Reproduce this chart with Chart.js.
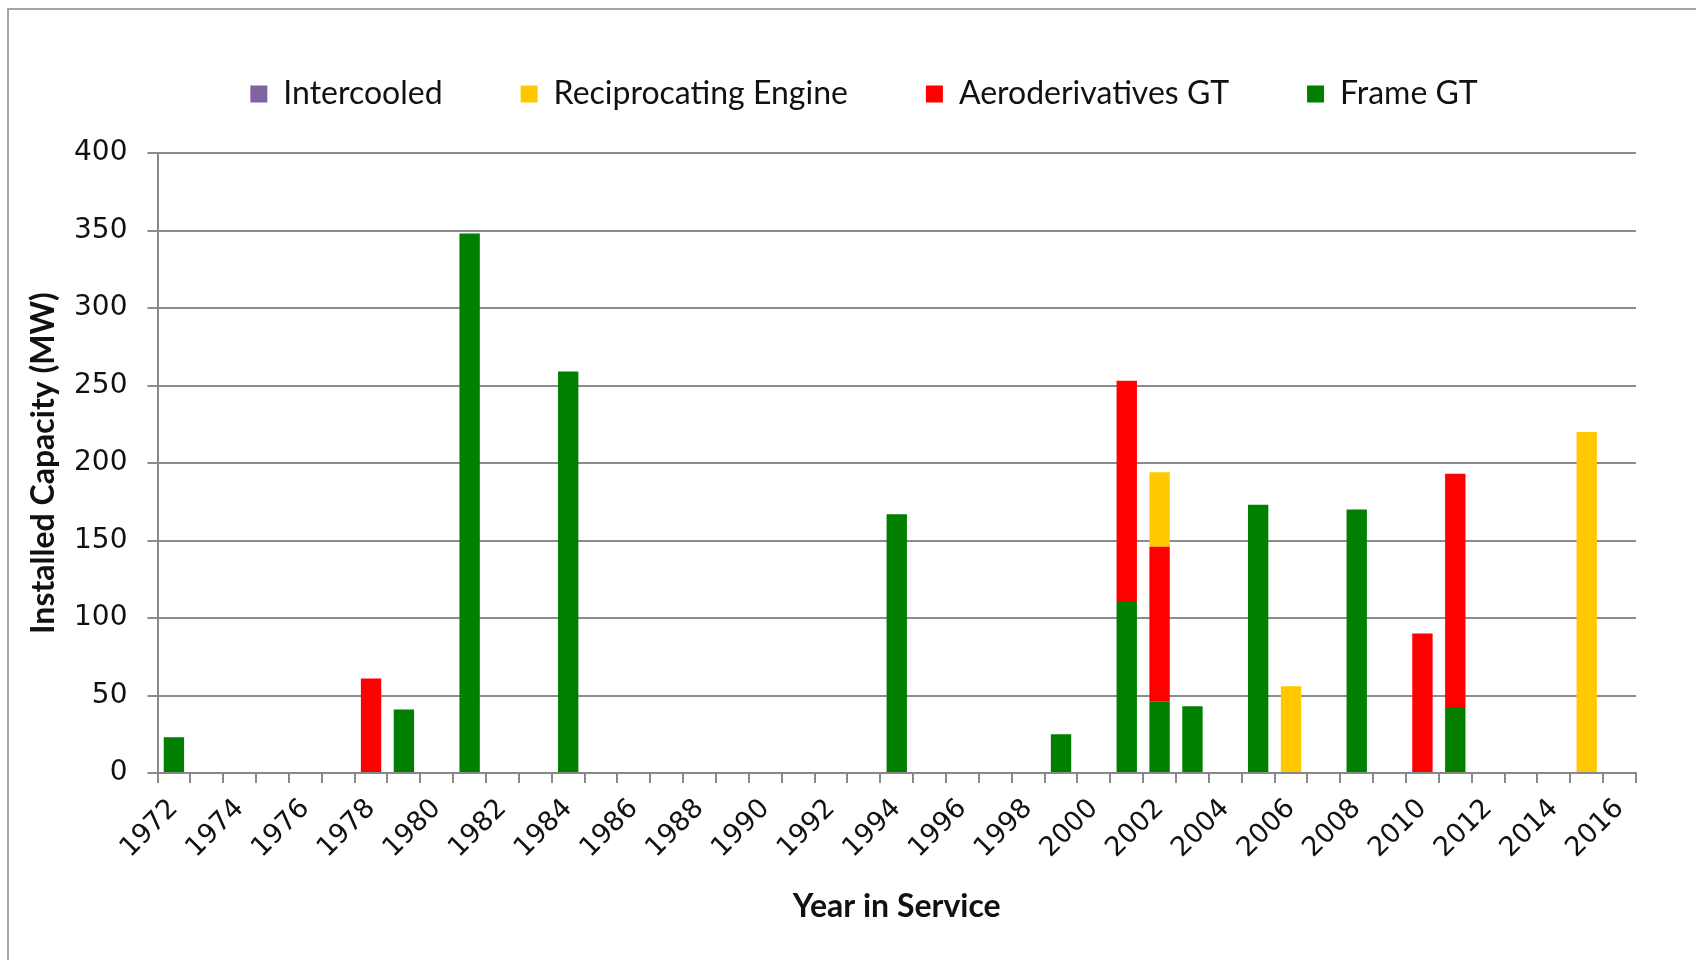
<!DOCTYPE html>
<html><head><meta charset="utf-8">
<script src="https://cdn.jsdelivr.net/npm/chart.js@4.4.1/dist/chart.umd.min.js"></script>
<style>html,body{margin:0;padding:0;background:#fff;overflow:hidden}#wrap{width:1696px;height:960px;position:relative}canvas{display:block}</style>
</head><body><div id="wrap"><canvas id="c" width="1696" height="960"></canvas></div>
<script>
const years = ['1972','1973','1974','1975','1976','1977','1978','1979','1980','1981','1982','1983','1984','1985','1986','1987','1988','1989','1990','1991','1992','1993','1994','1995','1996','1997','1998','1999','2000','2001','2002','2003','2004','2005','2006','2007','2008','2009','2010','2011','2012','2013','2014','2015','2016'];
const frameGT =       [23,0,0,0,0,0,0,41,0,348,0,0,259,0,0,0,0,0,0,0,0,0,167,0,0,0,0,25,0,111,46,43,0,173,0,0,170,0,0,42,0,0,0,0,0];
const aeroGT =        [0,0,0,0,0,0,61,0,0,0,0,0,0,0,0,0,0,0,0,0,0,0,0,0,0,0,0,0,0,142,100,0,0,0,0,0,0,0,90,151,0,0,0,0,0];
const recipEngine =   [0,0,0,0,0,0,0,0,0,0,0,0,0,0,0,0,0,0,0,0,0,0,0,0,0,0,0,0,0,0,48,0,0,0,56,0,0,0,0,0,0,0,0,220,0];
const intercooled =   [0,0,0,0,0,0,0,0,0,0,0,0,0,0,0,0,0,0,0,0,0,0,0,0,0,0,0,0,0,0,0,0,0,0,0,0,0,0,0,0,0,0,0,0,0];
const yTicks = [0,50,100,150,200,250,300,350,400];

const PAD = {left:24, right:60, top:0, bottom:34};
const PLOT = {left:157.5, top:153, bottom:773};
const LEGEND_SHIFT = 34;

const frame = {
  id:'frame',
  beforeDraw(chart){
    const c = chart.ctx;
    c.save();
    c.strokeStyle = '#a6a6a6';
    c.lineWidth = 2;
    c.beginPath();
    c.moveTo(8, 960); c.lineTo(8, 9); c.lineTo(1696, 9);
    c.stroke();
    c.restore();
  }
};
const legendTweak = {
  id:'legendTweak',
  beforeInit(chart){
    const lg = chart.legend;
    const fit = lg.fit;
    lg.fit = function(){
      fit.apply(this, arguments);
      this.height = PLOT.top - PAD.top;
    };
    const draw = lg.draw;
    lg.draw = function(){
      const l = this.left, r = this.right;
      this.left = l + LEGEND_SHIFT; this.right = r + LEGEND_SHIFT;
      draw.apply(this, arguments);
      this.left = l; this.right = r;
    };
  }
};

const mk = (label, data, color) => ({label, data, backgroundColor: color, borderWidth: 0, barPercentage: 0.62, categoryPercentage: 1.0});

new Chart(document.getElementById('c'), {
  type: 'bar',
  data: {
    labels: years,
    datasets: [
      mk('Frame GT', frameGT, '#007f00'),
      mk('Aeroderivatives GT', aeroGT, '#ff0000'),
      mk('Reciprocating Engine', recipEngine, '#ffc800'),
      mk('Intercooled', intercooled, '#8064a2')
    ]
  },
  options: {
    responsive: false,
    animation: false,
    layout: {padding: PAD},
    plugins: {
      tooltip: {enabled: false},
      legend: {
        position: 'top',
        reverse: true,
        labels: {
          boxWidth: 17, boxHeight: 17,
          padding: 78,
          color: '#111',
          font: {family: 'Lato', size: 32}
        }
      }
    },
    scales: {
      x: {
        stacked: true,
        afterFit(s){ s.height = 960 - PLOT.bottom - PAD.bottom; },
        grid: {offset: true, drawOnChartArea: false, drawTicks: true, tickLength: 10, color: '#888', lineWidth: 2},
        border: {display: true, color: '#888', width: 2},
        ticks: {
          autoSkip: false, maxRotation: 45, minRotation: 45, padding: 10,
          color: '#111', font: {family: 'DejaVu Sans', size: 27},
          callback(v, i){ return i % 2 === 0 ? years[i] : ''; }
        },
        title: {display: true, text: 'Year in Service', color: '#111', font: {family: 'Lato', size: 32, weight: 'bold'}, padding: {top: 0, bottom: 0}}
      },
      y: {
        stacked: true,
        min: 0, max: 400,
        afterFit(s){ s.width = PLOT.left - PAD.left; },
        afterBuildTicks(s){ s.ticks = yTicks.map(v => ({value: v})); },
        grid: {color: '#8c8c8c', lineWidth: 2, tickLength: 10, drawTicks: true},
        border: {display: true, color: '#888', width: 2},
        ticks: {padding: 20, color: '#111', font: {family: 'DejaVu Sans', size: 28}},
        title: {display: true, text: 'Installed Capacity (MW)', color: '#111', font: {family: 'Lato', size: 32, weight: 'bold'}, padding: {top: 0, bottom: 0}}
      }
    }
  },
  plugins: [frame, legendTweak]
});
</script>
</body></html>
